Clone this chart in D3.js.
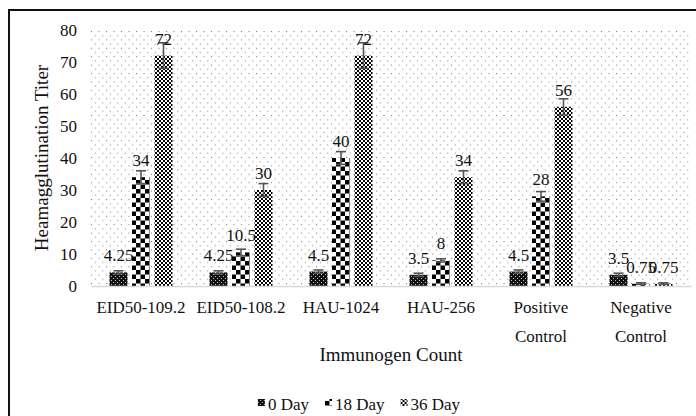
<!DOCTYPE html>
<html><head><meta charset="utf-8">
<script src="https://cdn.jsdelivr.net/npm/d3@7"></script>
<style>
body{margin:0;background:#fff}
svg{display:block}
text{font-family:"Liberation Serif","Times New Roman",serif}
</style>
</head><body>
<svg id="c" width="696" height="416"></svg>
<script>
// ---- data ----
const categories = ["EID50-109.2", "EID50-108.2", "HAU-1024", "HAU-256", "Positive Control", "Negative Control"];
const seriesNames = ["0 Day", "18 Day", "36 Day"];
const day0Values = [4.25, 4.25, 4.5, 3.5, 4.5, 3.5];
const day18Values = [34, 10.5, 40, 8, 28, 0.75];
const day36Values = [72, 30, 72, 34, 56, 0.75];
const day0Errors = [0.5, 0.5, 0.5, 0.5, 0.5, 0.5];
const day18Errors = [2, 1, 2, 0.5, 1.5, 0.25];
const day36Errors = [4, 2, 4, 2, 2.5, 0.25];
const yTickValues = [0, 10, 20, 30, 40, 50, 60, 70, 80];
const yTitle = "Heamagglutination Titer";
const xTitle = "Immunogen Count";

const seriesValues = [day0Values, day18Values, day36Values];
const seriesErrors = [day0Errors, day18Errors, day36Errors];

const svg = d3.select("#c");
svg.append("rect").attr("width", 696).attr("height", 416).attr("fill", "#fff");

// ---- patterns ----
const defs = svg.append("defs");
const pBg = defs.append("pattern").attr("id", "bgdots").attr("patternUnits", "userSpaceOnUse")
  .attr("width", 7.5).attr("height", 8.4).attr("x", 91).attr("y", 31);
pBg.append("rect").attr("width", 7.5).attr("height", 8.4).attr("fill", "#fff");
pBg.append("rect").attr("x", 0).attr("y", 0).attr("width", 1).attr("height", 1).attr("fill", "#7a7a7a");
pBg.append("rect").attr("x", 3.75).attr("y", 4.2).attr("width", 1).attr("height", 1).attr("fill", "#7a7a7a");

const p0 = defs.append("pattern").attr("id", "pat0").attr("patternUnits", "userSpaceOnUse").attr("width", 4).attr("height", 4);
p0.append("rect").attr("width", 4).attr("height", 4).attr("fill", "#111");
p0.append("rect").attr("x", 0).attr("y", 0).attr("width", 1).attr("height", 1).attr("fill", "#bbb");
p0.append("rect").attr("x", 2).attr("y", 2).attr("width", 1).attr("height", 1).attr("fill", "#bbb");

const p18 = defs.append("pattern").attr("id", "pat1").attr("patternUnits", "userSpaceOnUse").attr("width", 9).attr("height", 9);
p18.append("rect").attr("width", 9).attr("height", 9).attr("fill", "#fff");
p18.append("rect").attr("x", 0).attr("y", 0).attr("width", 4.5).attr("height", 4.5).attr("fill", "#000");
p18.append("rect").attr("x", 4.5).attr("y", 4.5).attr("width", 4.5).attr("height", 4.5).attr("fill", "#000");

const p36 = defs.append("pattern").attr("id", "pat2").attr("patternUnits", "userSpaceOnUse").attr("width", 4).attr("height", 4);
p36.append("rect").attr("width", 4).attr("height", 4).attr("fill", "#fff");
p36.append("rect").attr("x", 0).attr("y", 0).attr("width", 2).attr("height", 2).attr("fill", "#000");
p36.append("rect").attr("x", 2).attr("y", 2).attr("width", 2).attr("height", 2).attr("fill", "#000");

// ---- frame ----
svg.append("path").attr("d", "M9,418 L9,10 L698,10").attr("fill", "none").attr("stroke", "#111").attr("stroke-width", 2);

// ---- scales ----
const plotL = 91, plotR = 691, plotT = 30, plotB = 286;
const x0 = d3.scaleBand().domain(categories).range([plotL, plotR]).padding(0);
const x1 = d3.scaleBand().domain(seriesNames).range([18.5, 81.5]).paddingInner(0.2).paddingOuter(0);
const y = d3.scaleLinear().domain([0, 80]).range([plotB, plotT]);

// plot background
svg.append("rect").attr("x", plotL).attr("y", plotT).attr("width", plotR - plotL).attr("height", plotB - plotT)
  .attr("fill", "url(#bgdots)");

// ---- y axis ----
const yAxis = svg.append("g").attr("transform", `translate(${plotL},0)`)
  .call(d3.axisLeft(y).tickValues(yTickValues).tickSize(0).tickPadding(14).tickFormat(d3.format("d")));
yAxis.attr("font-family", null);
yAxis.select(".domain").remove();
yAxis.selectAll("text").attr("font-size", 17).attr("fill", "#111");

// ---- bars ----
const groups = svg.append("g").selectAll("g").data(categories).join("g")
  .attr("transform", d => `translate(${x0(d)},0)`);

seriesNames.forEach((s, si) => {
  groups.append("rect")
    .attr("x", x1(s))
    .attr("width", x1.bandwidth())
    .attr("y", (d, i) => y(seriesValues[si][i]))
    .attr("height", (d, i) => y(0) - y(seriesValues[si][i]))
    .attr("fill", `url(#pat${si})`);
});

// ---- x axis ----
const xAxis = svg.append("g").attr("transform", `translate(0,${plotB})`)
  .call(d3.axisBottom(x0).tickSize(0).tickPadding(10));
xAxis.attr("font-family", null);
xAxis.select(".domain").attr("stroke", "#d9d9d9").attr("stroke-width", 1.5);
xAxis.selectAll(".tick text").each(function(d) {
  const t = d3.select(this);
  const words = d.split(" ");
  t.text(null).attr("font-size", 17).attr("fill", "#111")
    .attr("y", 0).attr("dy", null);
  words.forEach((w, wi) => {
    t.append("tspan").attr("x", 0).attr("y", 27 + wi * 29).text(w);
  });
});

// ---- error bars ----
seriesNames.forEach((s, si) => {
  const eg = groups.append("g").attr("stroke", "#555").attr("stroke-width", 1.6);
  const cx = x1(s) + x1.bandwidth() / 2;
  eg.append("line").attr("x1", cx).attr("x2", cx)
    .attr("y1", (d, i) => y(seriesValues[si][i] + seriesErrors[si][i]))
    .attr("y2", (d, i) => y(Math.max(0, seriesValues[si][i] - seriesErrors[si][i])));
  eg.append("line").attr("x1", cx - 5).attr("x2", cx + 5)
    .attr("y1", (d, i) => y(seriesValues[si][i] + seriesErrors[si][i]))
    .attr("y2", (d, i) => y(seriesValues[si][i] + seriesErrors[si][i]));
  eg.append("line").attr("x1", cx - 5).attr("x2", cx + 5)
    .attr("y1", (d, i) => y(Math.max(0, seriesValues[si][i] - seriesErrors[si][i])))
    .attr("y2", (d, i) => y(Math.max(0, seriesValues[si][i] - seriesErrors[si][i])));
});

// ---- data labels ----
seriesNames.forEach((s, si) => {
  const cx = x1(s) + x1.bandwidth() / 2;
  groups.append("text")
    .attr("x", cx)
    .attr("y", (d, i) => y(seriesValues[si][i]) - 11)
    .attr("text-anchor", "middle")
    .attr("font-size", 17).attr("fill", "#111")
    .text((d, i) => String(seriesValues[si][i]));
});

// ---- axis titles ----
svg.append("text").attr("transform", `translate(48,${(plotT + plotB) / 2}) rotate(-90)`)
  .attr("text-anchor", "middle").attr("font-size", 19).attr("fill", "#111").text(yTitle);
svg.append("text").attr("x", (plotL + plotR) / 2).attr("y", 361)
  .attr("text-anchor", "middle").attr("font-size", 19).attr("fill", "#111").text(xTitle);

// ---- legend ----
const leg = svg.append("g");
let lx = 0;
seriesNames.forEach((s, si) => {
  const g = leg.append("g").attr("transform", `translate(${lx},0)`);
  g.append("rect").attr("x", 0).attr("y", -11).attr("width", 7).attr("height", 7).attr("fill", `url(#pat${si})`);
  const t = g.append("text").attr("x", 10).attr("y", 0).attr("font-size", 17).attr("fill", "#111").text(s);
  lx += 10 + t.node().getComputedTextLength() + 16;
});
const legW = lx - 16;
leg.attr("transform", `translate(${359 - legW / 2},410)`);
</script>
</body></html>
